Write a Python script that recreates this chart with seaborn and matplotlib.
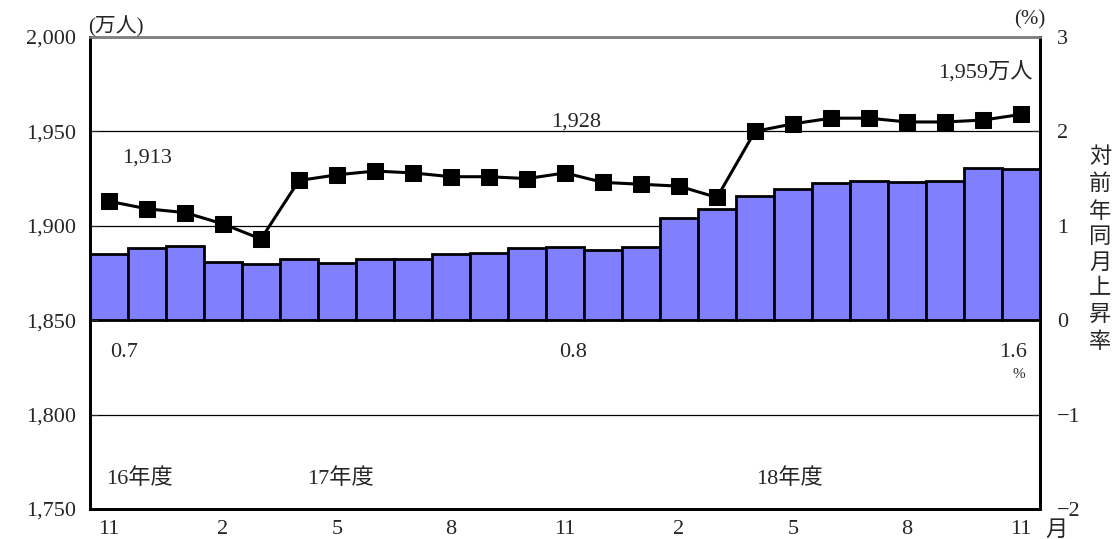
import numpy as np
import pandas as pd
import matplotlib
matplotlib.use("Agg")
import matplotlib.pyplot as plt
import seaborn as sns

# ─── DATA ─────────────────────────────────────────────────────────────────────
months = ['11', '12', '1', '2', '3', '4', '5', '6', '7', '8', '9', '10',
          '11', '12', '1', '2', '3', '4', '5', '6', '7', '8', '9', '10', '11']
employed = [1913, 1909, 1907, 1901, 1893, 1924, 1927, 1929, 1928, 1926, 1926, 1925,
            1928, 1923, 1922, 1921, 1915, 1950, 1954, 1957, 1957, 1955, 1955, 1956, 1959]
rise_rate = [0.70, 0.77, 0.79, 0.62, 0.60, 0.65, 0.61, 0.65, 0.65, 0.70, 0.71, 0.76,
             0.78, 0.74, 0.78, 1.08, 1.18, 1.32, 1.39, 1.45, 1.47, 1.46, 1.47, 1.61, 1.60]
left_ticks = [1750, 1800, 1850, 1900, 1950, 2000]
right_ticks = [-2, -1, 0, 1, 2, 3]
fiscal_years = ['16年度', '17年度', '18年度']

df = pd.DataFrame({'pos': np.arange(len(months)), 'month': months,
                   'employed': employed, 'rate': rise_rate})

# ─── STYLE ────────────────────────────────────────────────────────────────────
sns.set_style('white')
plt.rcParams['font.family'] = ['Liberation Serif', 'Noto Sans CJK JP']
FS = 16

fig = plt.figure(figsize=(11.16, 5.39), dpi=100)
ax = fig.add_axes([90 / 1116, 1 - 509 / 539, 950 / 1116, 472 / 539])
ax2 = ax.twinx()

# bars: rise rate on right axis
sns.barplot(data=df, x='pos', y='rate', ax=ax2, color='#8080ff', saturation=1,
            width=1.0, edgecolor='black', linewidth=2, order=list(df['pos']))
ax2.set_ylim(-2, 3)
ax2.set_yticks(right_ticks)
ax2.set_yticklabels(['−2', '−1', '0', '1', '2', '3'], fontsize=FS)
ax2.yaxis.grid(True, color='black', linewidth=0.9)
ax2.set_axisbelow(True)
ax2.set_ylabel('')
ax2.set_xlabel('')

# line: employed persons on left axis, drawn above bars
ax.set_zorder(ax2.get_zorder() + 1)
ax.patch.set_visible(False)
sns.lineplot(data=df, x='pos', y='employed', ax=ax, color='black', linewidth=2.2,
             marker='s', markersize=11, markeredgecolor='black')
ax.set_ylim(1750, 2000)
ax.set_yticks(left_ticks)
ax.set_yticklabels([f'{v:,}' for v in left_ticks], fontsize=FS)
ax.set_xlim(-0.5, len(months) - 0.5)
ax.set_xlabel('')
ax.set_ylabel('')

label_pos = list(range(0, len(months), 3))
ax.set_xticks(label_pos)
ax.set_xticklabels([months[i] for i in label_pos], fontsize=FS)
ax.set_xticks(np.arange(0.5, len(months) - 1, 1), minor=True)
ax.tick_params(axis='x', which='major', length=0, pad=8)
ax.tick_params(axis='x', which='minor', direction='in', length=6, width=1.2)
ax.tick_params(axis='y', direction='in', length=6, pad=10)
ax2.tick_params(axis='y', direction='in', length=6, pad=12)

for a in (ax, ax2):
    for side in ('left', 'right', 'bottom'):
        a.spines[side].set_visible(True)
        a.spines[side].set_color('black')
        a.spines[side].set_linewidth(2)
    a.spines['top'].set_color('#808080')
    a.spines['top'].set_linewidth(1.8)

# ─── ANNOTATIONS ──────────────────────────────────────────────────────────────
ax.text(1.0, 1936, f'{employed[0]:,}', fontsize=FS, ha='center', va='center')
ax.text(12.3, 1955, f'{employed[12]:,}', fontsize=FS, ha='center', va='center')
ax.text(24.3, 1981, f'{employed[-1]:,}万人', fontsize=FS, ha='right', va='center')

ax.text(0.4, 1833, f'{rise_rate[0]:.1f}', fontsize=FS, ha='center', va='center')
ax.text(12.2, 1833, f'{rise_rate[12]:.1f}', fontsize=FS, ha='center', va='center')
ax.text(23.8, 1833, f'{rise_rate[-1]:.1f}', fontsize=FS, ha='center', va='center')
ax.text(23.95, 1821, '%', fontsize=11, ha='center', va='center')

for xp, lab in zip([0.8, 6.1, 17.9], fiscal_years):
    ax.text(xp, 1766, lab, fontsize=FS, ha='center', va='center')

ax.text(-0.002, 1.0, '(万人)', transform=ax.transAxes, fontsize=FS - 1,
        ha='left', va='bottom')
ax.text(1.006, 1.015, '(%)', transform=ax.transAxes, fontsize=FS - 1,
        ha='right', va='bottom')
ax.text(1.006, -0.025, '月', transform=ax.transAxes, fontsize=FS,
        ha='left', va='top')
fig.text(1100 / 1116, 1 - 250 / 539, '\n'.join('対前年同月上昇率'), fontsize=FS,
         ha='center', va='center', linespacing=1.42)

fig.savefig('out.png', dpi=100)
